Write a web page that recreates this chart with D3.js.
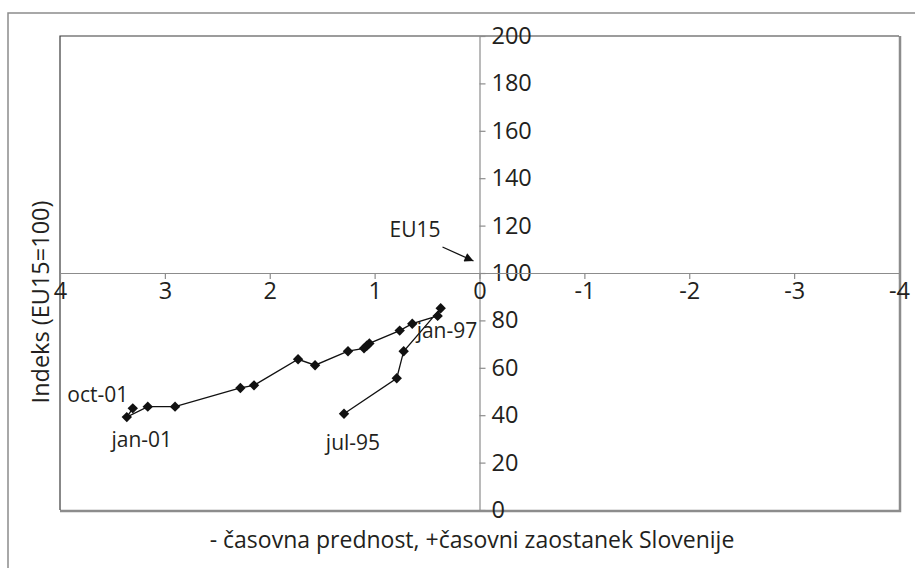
<!DOCTYPE html>
<html>
<head>
<meta charset="utf-8">
<script src="https://cdn.jsdelivr.net/npm/d3@7"></script>
<style>
  body { margin: 0; background: #fff; }
  text { font-family: "Open Sans", sans-serif; fill: #231f20; }
</style>
</head>
<body>
<div id="chart"></div>
<script>
const width = 915;
const height = 568;

// lag of Slovenia behind EU15 in years (+ = behind)
const lagYears = [1.292, 0.789, 0.723, 0.370, 0.399, 0.641, 0.761, 1.050, 1.075, 1.101,
  1.254, 1.568, 1.730, 2.150, 2.280, 2.903, 3.163, 3.363, 3.306];
// index, EU15 = 100
const indexValues = [40.6, 55.6, 67.0, 85.1, 81.9, 78.6, 75.7, 70.3, 69.3, 68.2,
  67.0, 61.1, 63.6, 52.6, 51.5, 43.6, 43.6, 39.2, 42.9];

const pointLabels = ['jul-95', 'jan-97', 'jan-01', 'oct-01'];
const pointLabelIndex = [0, 4, 17, 18];

const xTicks = [4, 3, 2, 1, 0, -1, -2, -3, -4];
const yTicks = [0, 20, 40, 60, 80, 100, 120, 140, 160, 180, 200];

const plot = { left: 60, top: 36, right: 899, bottom: 510 };

const svg = d3
  .select('#chart')
  .append('svg')
  .attr('width', width)
  .attr('height', height)
  .attr('xmlns', 'http://www.w3.org/2000/svg');

const x = d3.scaleLinear().domain([4, -4]).range([plot.left, plot.right]);
const y = d3.scaleLinear().domain([0, 200]).range([plot.bottom, plot.top]);

/* Frames
-----------------------------------------------------------------------------*/
svg.append('path')
  .attr('d', `M8,${height} V13 H${width}`)
  .attr('fill', 'none')
  .attr('stroke', '#8c8c8c')
  .attr('stroke-width', 1.5);

svg.append('path')
  .attr('d', `M${plot.right + 1},${plot.top} V${plot.bottom + 1} H${plot.left}`)
  .attr('fill', 'none')
  .attr('stroke', '#8c8c8c')
  .attr('stroke-width', 2.5);

svg.append('path')
  .attr('d', `M${plot.left},${plot.bottom} V${plot.top} H${plot.right}`)
  .attr('fill', 'none')
  .attr('stroke', '#3a3a3a')
  .attr('stroke-width', 1.2);

/* Axes
-----------------------------------------------------------------------------*/
const yAxis = svg.append('g')
  .attr('transform', `translate(${x(0)},0)`)
  .call(d3.axisRight(y).tickValues(yTicks).tickSize(6).tickPadding(6).tickSizeOuter(0));

const xAxis = svg.append('g')
  .attr('transform', `translate(0,${y(100)})`)
  .call(d3.axisBottom(x).tickValues(xTicks).tickSize(6).tickPadding(3).tickSizeOuter(0)
    .tickFormat(d => (d < 0 ? '-' + Math.abs(d) : d)));

[xAxis, yAxis].forEach(g => {
  g.select('.domain').attr('stroke', '#8c8c8c').attr('stroke-width', 1.2);
  g.selectAll('.tick line').attr('stroke', '#8c8c8c').attr('stroke-width', 1.2);
  g.selectAll('.tick text')
    .style('font-family', '"Open Sans", sans-serif')
    .style('font-size', '23.5px')
    .attr('fill', '#231f20');
});

/* Series
-----------------------------------------------------------------------------*/
const points = lagYears.map((d, i) => [d, indexValues[i]]);

svg.append('path')
  .datum(points)
  .attr('fill', 'none')
  .attr('stroke', '#111')
  .attr('stroke-width', 1.3)
  .attr('d', d3.line().x(d => x(d[0])).y(d => y(d[1])));

svg.append('g')
  .selectAll('path')
  .data(points)
  .join('path')
  .attr('transform', d => `translate(${x(d[0])},${y(d[1])}) rotate(45)`)
  .attr('d', d3.symbol().type(d3.symbolSquare).size(54))
  .attr('fill', '#111');

/* Labels
-----------------------------------------------------------------------------*/
const labelOffsets = [[9, 36, 'middle'], [-21, 22, 'start'], [15, 30, 'middle'], [-4.5, -6, 'end']];

svg.append('g')
  .selectAll('text')
  .data(pointLabels)
  .join('text')
  .attr('x', (d, i) => x(lagYears[pointLabelIndex[i]]) + labelOffsets[i][0])
  .attr('y', (d, i) => y(indexValues[pointLabelIndex[i]]) + labelOffsets[i][1])
  .attr('text-anchor', (d, i) => labelOffsets[i][2])
  .style('font-size', '21px')
  .text(d => d);

// EU15 marker at the origin of the crossing axes
svg.append('defs')
  .append('marker')
  .attr('id', 'arrow')
  .attr('viewBox', '0 0 10 10')
  .attr('refX', 10)
  .attr('refY', 5)
  .attr('markerWidth', 12)
  .attr('markerHeight', 9)
  .attr('markerUnits', 'userSpaceOnUse')
  .attr('orient', 'auto')
  .append('path')
  .attr('d', 'M0,0 L10,5 L0,10 Z')
  .attr('fill', '#111');

svg.append('line')
  .attr('x1', x(0) - 37)
  .attr('y1', y(100) - 26)
  .attr('x2', x(0) - 6)
  .attr('y2', y(100) - 12)
  .attr('stroke', '#111')
  .attr('stroke-width', 1.3)
  .attr('marker-end', 'url(#arrow)');

svg.append('text')
  .attr('x', x(0) - 90)
  .attr('y', y(100) - 36)
  .style('font-size', '21px')
  .text('EU15');

/* Axis titles
-----------------------------------------------------------------------------*/
svg.append('text')
  .attr('x', 472)
  .attr('y', 548)
  .attr('text-anchor', 'middle')
  .style('font-size', '23px')
  .text('- časovna prednost, +časovni zaostanek Slovenije');

svg.append('text')
  .attr('transform', 'translate(49,302) rotate(-90)')
  .attr('text-anchor', 'middle')
  .style('font-size', '23.5px')
  .text('Indeks (EU15=100)');
</script>
</body>
</html>
